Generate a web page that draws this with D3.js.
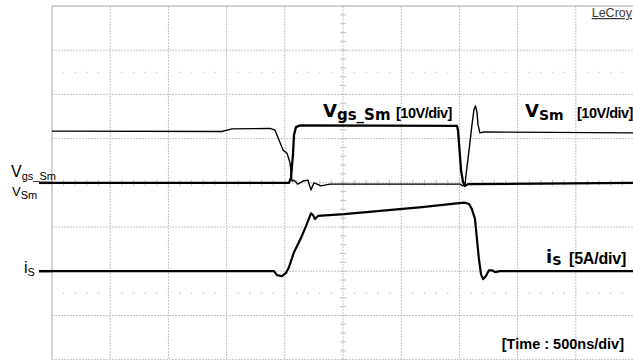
<!DOCTYPE html>
<html>
<head>
<meta charset="utf-8">
<script src="https://cdn.jsdelivr.net/npm/d3@7"></script>
<style>
  html, body { margin: 0; padding: 0; background: #fff; }
  svg { display: block; }
</style>
</head>
<body>
<svg id="chart" width="633" height="360"></svg>
<script>
// ---- data (time in ns, volts, amps) ----
const vsmTime  = [0, 1460, 1546, 1873, 1916, 1950, 1985, 2019, 2045, 2062, 2079, 2113, 2156, 2199, 2225, 2251, 2311, 2388, 3505, 3531, 3548, 3557, 3583, 3608, 3625, 3638, 3651, 3660, 3677, 3711, 5000];
const vsmVolts = [11.7, 11.6, 12.2, 12.3, 11.9, 9.7, 7.4, 6.7, 4.5, 0.4, 0.6, -0.3, 0.4, 0.6, -1.6, 0, -0.7, -0.3, -0.3, -0.7, -0.5, 1.8, 7.4, 13.1, 16.5, 17.4, 16.0, 13.1, 11.3, 11.5, 11.3];

const vgsTime  = [0, 2036, 2053, 2070, 2079, 2096, 2131, 3479, 3488, 3496, 3514, 3531, 3548, 3574, 5000];
const vgsVolts = [0, 0, 1.1, 6.3, 10.8, 12.6, 13.0, 12.9, 11.9, 9.2, 2.9, 0.2, -0.7, -0.3, 0];

const isTime = [0, 1907, 1933, 1976, 2010, 2036, 2079, 2139, 2182, 2225, 2242, 2259, 2285, 2509, 3179, 3496, 3548, 3583, 3608, 3634, 3651, 3668, 3686, 3703, 3728, 3754, 3780, 3806, 3849, 5000];
const isAmps = [0, 0, -0.45, -0.55, -0.2, 0.45, 2.15, 3.75, 5.1, 6.55, 6.35, 5.9, 6.25, 6.45, 7.25, 7.7, 7.75, 7.6, 7.0, 5.9, 3.6, 1.35, -0.35, -0.9, -0.55, 0.1, 0.1, -0.1, 0, 0];

const timeDivs = [0, 500, 1000, 1500, 2000, 2500, 3000, 3500, 4000, 4500, 5000];
const voltDivs = [-40, -30, -20, -10, 0, 10, 20, 30, 40];

// ---- scales ----
const svg = d3.select("#chart");
const x = d3.scaleLinear().domain([0, 5000]).range([52, 634]);
const yV = d3.scaleLinear().domain([-40, 40]).range([359.6, 6]);   // 10 V/div
const yI = d3.scaleLinear().domain([-10, 30]).range([359.6, 6]);   // 5 A/div

const gridColor = "#c4c4c4";
const g = svg.append("g");

// vertical grid lines
g.selectAll("line.vg").data(timeDivs).enter().append("line")
  .attr("x1", d => x(d)).attr("x2", d => x(d))
  .attr("y1", yV(40)).attr("y2", yV(-40))
  .attr("stroke", d => d === 0 ? "#a8a8a8" : gridColor)
  .attr("stroke-width", 1)
  .attr("stroke-dasharray", d => d === 0 ? null : "2,1");

// horizontal grid lines
g.selectAll("line.hg").data(voltDivs).enter().append("line")
  .attr("x1", x(0)).attr("x2", x(5000))
  .attr("y1", d => yV(d)).attr("y2", d => yV(d))
  .attr("stroke", d => d === 40 ? "#a8a8a8" : gridColor)
  .attr("stroke-width", 1)
  .attr("stroke-dasharray", d => d === 40 ? null : "2,1");

// minor ticks on the centre cross
const minorT = d3.range(0, 5001, 100);
g.selectAll("line.mt").data(minorT).enter().append("line")
  .attr("x1", d => x(d)).attr("x2", d => x(d))
  .attr("y1", yV(0) - 3).attr("y2", yV(0) + 3)
  .attr("stroke", gridColor).attr("stroke-width", 1);
const minorV = d3.range(-40, 40.1, 2);
g.selectAll("line.mv").data(minorV).enter().append("line")
  .attr("x1", x(2500) - 3).attr("x2", x(2500) + 3)
  .attr("y1", d => yV(d)).attr("y2", d => yV(d))
  .attr("stroke", gridColor).attr("stroke-width", 1);

// faint dotted rows at half divisions
[25, -25].forEach(v => {
  g.selectAll(null).data(minorT.filter(d => d % 500 !== 0)).enter().append("circle")
    .attr("cx", d => x(d)).attr("cy", yV(v)).attr("r", 1)
    .attr("fill", "#dcdcdc");
});

// ---- traces ----
const line = (ys) => d3.line().x(d => x(d[0])).y(d => ys(d[1]));

svg.append("path").datum(d3.zip(vsmTime, vsmVolts))
  .attr("d", line(yV)).attr("fill", "none")
  .attr("stroke", "#000").attr("stroke-width", 1.4).attr("stroke-linejoin", "round");

svg.append("path").datum(d3.zip(vgsTime, vgsVolts))
  .attr("d", line(yV)).attr("fill", "none")
  .attr("stroke", "#000").attr("stroke-width", 2.3).attr("stroke-linejoin", "round");

svg.append("path").datum(d3.zip(isTime, isAmps))
  .attr("d", line(yI)).attr("fill", "none")
  .attr("stroke", "#000").attr("stroke-width", 2.2).attr("stroke-linejoin", "round");

// ground markers on the left
svg.append("line").attr("x1", 39).attr("x2", x(0)).attr("y1", yV(0)).attr("y2", yV(0))
  .attr("stroke", "#000").attr("stroke-width", 2.5);
svg.append("line").attr("x1", 39).attr("x2", x(0)).attr("y1", yI(0)).attr("y2", yI(0))
  .attr("stroke", "#000").attr("stroke-width", 2.5);

// ---- texts ----
function label(xp, yp, parts) {
  const t = svg.append("text").attr("x", xp).attr("y", yp).attr("fill", "#000");
  parts.forEach(p => {
    const s = t.append("tspan").text(p.text)
      .attr("font-family", p.family || "DejaVu Sans")
      .attr("font-size", p.size)
      .attr("font-weight", p.weight || "normal");
    if (p.dy) s.attr("dy", p.dy);
    if (p.ls) s.attr("letter-spacing", p.ls);
  });
  return t;
}

// left labels
label(11, 177, [{text: "V", size: 16, family: "Liberation Sans"},
                {text: "gs_Sm", size: 11, family: "Liberation Sans", dy: 3}]);
label(12, 196, [{text: "V", size: 13, family: "Liberation Sans"},
                {text: "Sm", size: 11, family: "Liberation Sans", dy: 3}]);
label(24, 273, [{text: "i", size: 16, family: "Liberation Sans"},
                {text: "S", size: 11, family: "Liberation Sans", dy: 3}]);

// channel labels
const bf = "Liberation Sans";
label(323, 117, [{text: "V", size: 18, weight: "bold"},
                 {text: "gs_Sm", size: 15, weight: "bold", dy: 3}]);
label(396, 118, [{text: "[10V/div]", size: 14.5, weight: "bold", family: bf, ls: -0.5}]);

label(525, 117, [{text: "V", size: 18, weight: "bold"},
                 {text: "Sm", size: 14, weight: "bold", dy: 3}]);
label(577, 118, [{text: "[10V/div]", size: 14.5, weight: "bold", family: bf, ls: -0.5}]);

label(546, 263, [{text: "i", size: 18, weight: "bold"},
                 {text: "S", size: 13, weight: "bold", dy: 2}]);
label(569, 264, [{text: "[5A/div]", size: 16, weight: "bold", family: bf, ls: -0.2}]);

svg.append("text").attr("x", 624).attr("y", 349).attr("text-anchor", "end")
  .attr("font-family", "Liberation Sans").attr("font-weight", "bold")
  .attr("font-size", 14.5).text("[Time : 500ns/div]");

svg.append("text").attr("x", 632).attr("y", 17).attr("text-anchor", "end")
  .attr("font-family", "Liberation Sans").attr("font-size", 12.5)
  .attr("fill", "#3a3a3a").attr("text-decoration", "underline").text("LeCroy");
</script>
</body>
</html>
